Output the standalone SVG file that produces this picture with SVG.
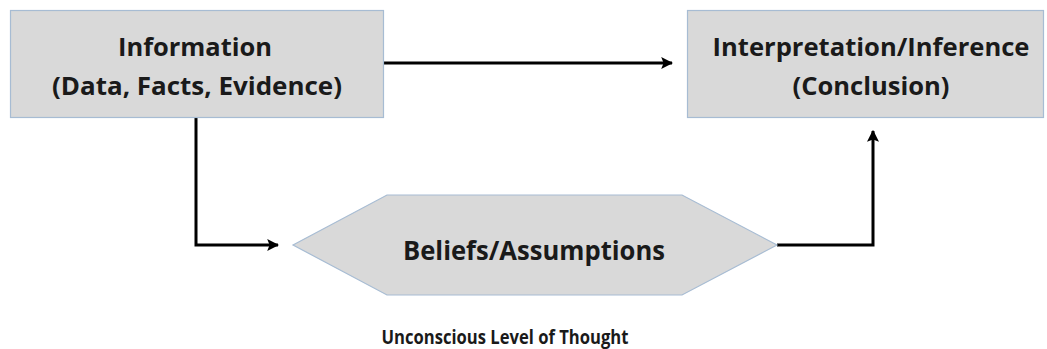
<svg xmlns="http://www.w3.org/2000/svg" width="1047" height="349" viewBox="0 0 1047 349">
<style>
.box{fill:#d9d9d9;stroke:#a7bcd3;stroke-width:1.2}
.t{font-family:"Open Sans","Liberation Sans",sans-serif;font-weight:bold;fill:#1a1a1a;text-anchor:middle}
.c{fill:none;stroke:#000;stroke-width:3}
</style>
<defs>
<marker id="ah" viewBox="0 0 10 10" refX="9" refY="5" markerWidth="4" markerHeight="4" markerUnits="strokeWidth" orient="auto">
<path d="M0,0 L10,5 L0,10 L2,5 Z" fill="#000"/>
</marker>
</defs>
<g id="connectors">
<path class="c" d="M383,63 L672,63" marker-end="url(#ah)"/>
<path class="c" d="M196,117 L196,245 L278,245" marker-end="url(#ah)"/>
<path class="c" d="M777,245 L873,245 L873,131" marker-end="url(#ah)"/>
</g>
<g id="information">
<rect class="box" x="10.5" y="10.5" width="373" height="107"/>
<text class="t" x="195" y="56" font-size="25" textLength="154" lengthAdjust="spacingAndGlyphs">Information</text>
<text class="t" x="197" y="95" font-size="25" textLength="290" lengthAdjust="spacingAndGlyphs">(Data, Facts, Evidence)</text>
</g>
<g id="interpretation">
<rect class="box" x="687.5" y="10.5" width="356" height="107"/>
<text class="t" x="871" y="56" font-size="25" textLength="317" lengthAdjust="spacingAndGlyphs">Interpretation/Inference</text>
<text class="t" x="871" y="95" font-size="25" textLength="157" lengthAdjust="spacingAndGlyphs">(Conclusion)</text>
</g>
<g id="beliefs">
<polygon class="box" points="293,245 387,195 682,195 777,245 682,295 387,295"/>
<text class="t" x="534" y="260" font-size="27" textLength="262" lengthAdjust="spacingAndGlyphs">Beliefs/Assumptions</text>
</g>
<g id="label">
<text class="t" x="505" y="344" font-size="19" textLength="247" lengthAdjust="spacingAndGlyphs">Unconscious Level of Thought</text>
</g>
</svg>
